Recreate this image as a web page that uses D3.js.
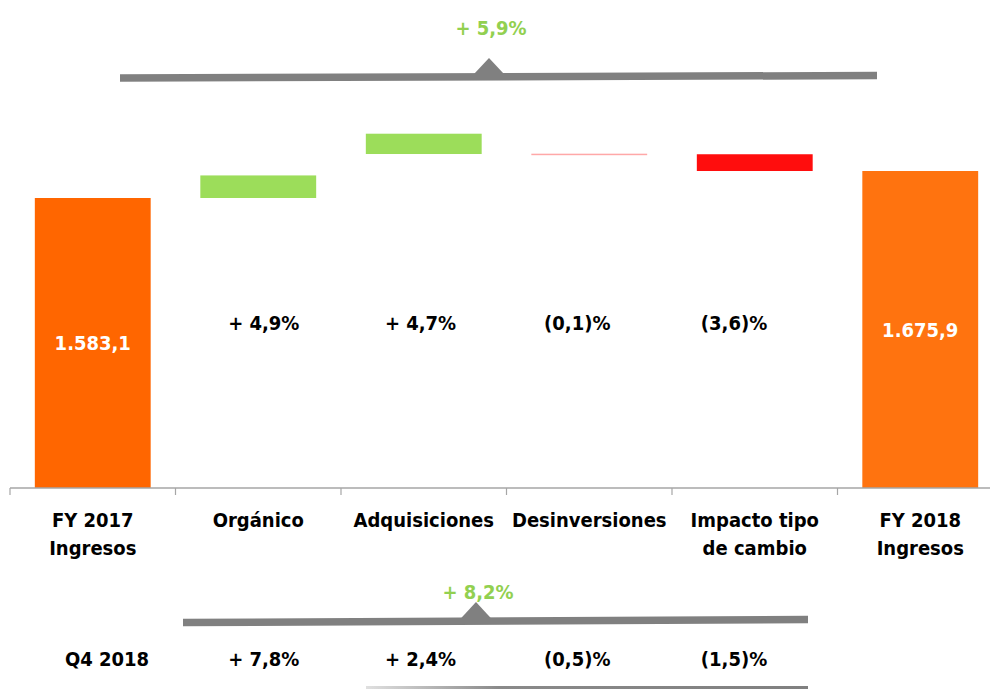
<!DOCTYPE html>
<html>
<head>
<meta charset="utf-8">
<script src="https://cdn.jsdelivr.net/npm/d3@7"></script>
<style>
  html, body { margin: 0; padding: 0; background: #fff; }
  text { font-family: 'Liberation Sans Narrow', 'Arial Narrow', 'DejaVu Sans Condensed', sans-serif; font-weight: bold; }
</style>
</head>
<body>
<div id="viz"></div>
<script>
// categories of the bridge
const categories = ["FY 2017|Ingresos", "Orgánico", "Adquisiciones", "Desinversiones", "Impacto tipo|de cambio", "FY 2018|Ingresos"]
const kinds = ["total", "up", "up", "down", "down", "total"]
// bar extents (MXN millions) as drawn; totals start at the axis floor
const barLow = [null, 1583.1, 1734.3, 1733.8, 1675.9, null]
const barHigh = [1583.1, 1660.7, 1804.1, 1735.4, 1733.5, 1675.9]
const totalLabels = ["1.583,1", null, null, null, null, "1.675,9"]

// growth rows
const rowHeads = ["", "Q4 2018"]
const fyPct = ["+ 4,9%", "+ 4,7%", "(0,1)%", "(3,6)%"]
const q4Pct = ["+ 7,8%", "+ 2,4%", "(0,5)%", "(1,5)%"]
const fyTotal = "+ 5,9%"
const q4Total = "+ 8,2%"

const width = 990
const height = 689
const axisY = 488

const svg = d3.select("#viz").append("svg")
    .attr("width", width)
    .attr("height", height)

const x = d3.scaleBand()
    .domain(categories)
    .range([10, 1003])
    .paddingInner(0.3)
    .paddingOuter(0.15)

// truncated value axis
const y = d3.scaleLinear()
    .domain([586.2, 1583.1])
    .range([axisY, 198])

const colors = {
    total0: "#ff6600",
    total5: "#ff730f",
    up: "#9cdd5a",
    down: "#ff0d0d"
}

const bars = categories.map((c, i) => ({
    cat: c,
    kind: kinds[i],
    lo: barLow[i] === null ? y.domain()[0] : barLow[i],
    hi: barHigh[i],
    label: totalLabels[i],
    i: i
}))

svg.append("g").selectAll("rect")
    .data(bars)
    .enter().append("rect")
    .attr("x", d => x(d.cat))
    .attr("width", x.bandwidth())
    .attr("y", d => y(d.hi))
    .attr("height", d => Math.max(1.5, y(d.lo) - y(d.hi)))
    .attr("fill", d => {
        if (d.kind === "total") return d.i === 0 ? colors.total0 : colors.total5
        // tiny bars render as a faint line
        if (y(d.lo) - y(d.hi) < 2) return "#ffa8a8"
        return colors[d.kind]
    })

// white value labels inside total bars
svg.append("g").selectAll("text")
    .data(bars.filter(d => d.label))
    .enter().append("text")
    .attr("x", d => x(d.cat) + x.bandwidth() / 2)
    .attr("y", d => (y(d.lo) + y(d.hi)) / 2)
    .attr("dy", "0.35em")
    .attr("text-anchor", "middle")
    .attr("fill", "#fff")
    .style("font-size", "20px")
    .text(d => d.label)

// category axis with ticks between bands
const axis = svg.append("g")
axis.append("line")
    .attr("x1", x.range()[0]).attr("x2", width)
    .attr("y1", axisY).attr("y2", axisY)
    .attr("stroke", "#a6a6a6").attr("stroke-width", 1.5)
const bounds = d3.range(categories.length).map(i => x.range()[0] + i * x.step())
axis.selectAll(".tick")
    .data(bounds)
    .enter().append("line")
    .attr("x1", d => d).attr("x2", d => d)
    .attr("y1", axisY).attr("y2", axisY + 7)
    .attr("stroke", "#a6a6a6").attr("stroke-width", 1.2)

const catLabels = axis.selectAll(".cat")
    .data(categories)
    .enter().append("text")
    .attr("text-anchor", "middle")
    .attr("fill", "#000")
    .style("font-size", "20px")
    .attr("transform", d => "translate(" + (x(d) + x.bandwidth() / 2) + ",527)")
catLabels.selectAll("tspan")
    .data(d => d.split("|"))
    .enter().append("tspan")
    .attr("x", 0)
    .attr("dy", (d, i) => i === 0 ? 0 : 28)
    .text(d => d)

// growth rows on a point scale (row head + four drivers)
const px = d3.scalePoint()
    .domain(d3.range(5))
    .range([107, 734])

function pctRow(vals, head, yPos) {
    const g = svg.append("g")
    g.selectAll("text")
        .data([head].concat(vals))
        .enter().append("text")
        .attr("x", (d, i) => px(i))
        .attr("y", yPos)
        .attr("dy", "0.35em")
        .attr("text-anchor", "middle")
        .attr("fill", "#000")
        .style("font-size", "20px")
        .text(d => d)
}
pctRow(fyPct, rowHeads[0], 323)
pctRow(q4Pct, rowHeads[1], 659)

// bracket with a pointer and total growth figure
function bracket(x1, x2, yl, yr, apexX, apexY, label, labelY) {
    const g = svg.append("g")
    const t = 7.5
    g.append("polygon")
        .attr("points", [[x1, yl - t / 2], [x2, yr - t / 2], [x2, yr + t / 2], [x1, yl + t / 2]].join(" "))
        .attr("fill", "#808080")
    const baseY = yl + (yr - yl) * (apexX - x1) / (x2 - x1) - t / 2 + 1
    g.append("polygon")
        .attr("points", [[apexX - 15, baseY], [apexX, apexY], [apexX + 15, baseY]].join(" "))
        .attr("fill", "#808080")
    g.append("text")
        .attr("x", apexX + 2)
        .attr("y", labelY)
        .attr("dy", "0.35em")
        .attr("text-anchor", "middle")
        .attr("fill", "#92d050")
        .style("font-size", "20px")
        .text(label)
}
bracket(120, 877, 78, 75.5, 489, 58, fyTotal, 28)
bracket(183, 808, 622.5, 619.5, 476, 602, q4Total, 592)

// partial bracket cut at the bottom edge
const grad = svg.append("defs").append("linearGradient")
    .attr("id", "fade")
grad.append("stop").attr("offset", "0%").attr("stop-color", "#e0e0e0")
grad.append("stop").attr("offset", "30%").attr("stop-color", "#8a8a8a")
grad.append("stop").attr("offset", "100%").attr("stop-color", "#808080")
svg.append("rect")
    .attr("x", 366).attr("y", 686)
    .attr("width", 442).attr("height", 3)
    .attr("fill", "url(#fade)")
</script>
</body>
</html>
